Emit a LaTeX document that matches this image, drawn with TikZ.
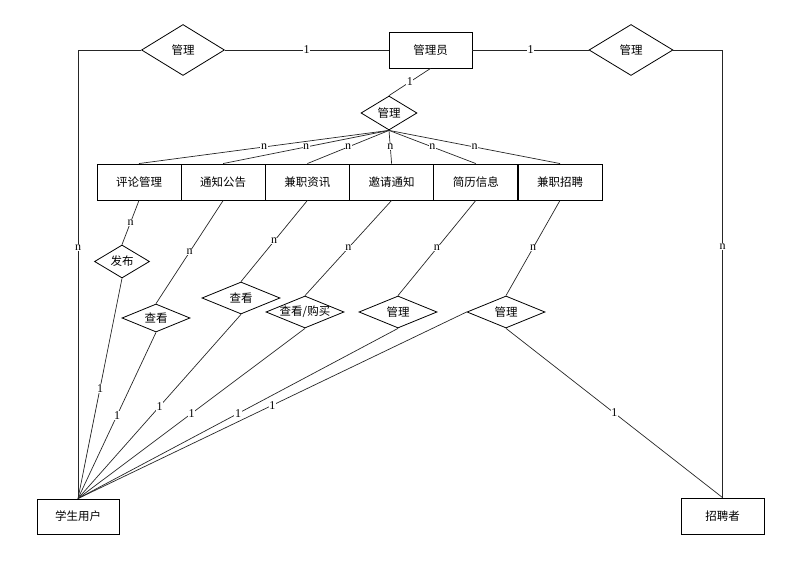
\documentclass[tikz,border=0pt]{standalone}
\usepackage{fontspec}
\setmainfont{Liberation Serif}
\newfontfamily\cjk{Noto Sans CJK SC}
\usetikzlibrary{shapes.geometric}
\tikzset{%
	entity/.style={
		rectangle,
		draw,
		line width=0.9pt,
		minimum width=84pt,
		minimum height=36pt,
		inner sep=0pt,
		font=\cjk\fontsize{11.5}{13}\selectfont
	},
	relation/.style 2 args={
		diamond,
		draw,
		line width=0.8pt,
		inner sep=0pt,
		aspect=2,
		minimum width=#1pt,
		minimum height=#2pt,
		font=\cjk\fontsize{11.5}{13}\selectfont
	},
	rel-4/.style={ inner xsep=-9pt },
	card/.style={
		fill=white,
		inner sep=0.6pt,
		font=\fontsize{12}{12}\selectfont
	},
	link/.style={ line width=0.7pt, draw=black!85 },
}

\begin{document}
\begin{tikzpicture}[x=1pt, y=-1pt]
\useasboundingbox (0,0) rectangle (785,561);

% entities
\node[entity, minimum width=83pt] (admin) at (430.5,50) {管理员};
\node[entity, minimum width=82pt, minimum height=35pt] (student) at (78,516.5) {学生用户};
\node[entity, minimum width=83pt] (recruiter) at (722.5,516) {招聘者};
\foreach \m [count=\i] in {评论管理,通知公告,兼职资讯,邀请通知,简历信息,兼职招聘}
	\node[entity] (entity-\i) at ({139+84.2*(\i-1)},182) {\m};

% relations
\node[relation={83}{51}] (manage-left) at (183,50) {管理};
\node[relation={84}{51}] (manage-right) at (631,50) {管理};
\node[relation={56}{34}] (manage-top) at (389,113) {管理};
\foreach \t/\px/\py/\w/\h [count=\i] in {发布/122/261.5/55/33, 查看/156/318/68/28, 查看/241/298/78/32, {查看/购买}/305/312/78/32, 管理/398/312/78/32, 管理/506/312/78/32}
	\node[relation={\w}{\h}, rel-\i/.try] (rel-\i) at (\px,\py) {\t};

% connections of the admin
\draw[link] (manage-left) -- node[card] {1} (admin);
\draw[link] (admin) -- node[card] {1} (manage-right);
\draw[link] (manage-left.west) -| node[card, pos=0.72] {n} (student.north);
\draw[link] (manage-right.east) -| node[card, pos=0.72] {n} (recruiter.north);
\draw[link] (admin.south) -- node[card] {1} (manage-top.north);
\foreach \i in {1,...,6}
	\draw[link] (manage-top.south) -- node[card] {n} (entity-\i.north);

% connections of the users
\foreach \i in {1,...,6}
	\draw[link] (entity-\i.south) -- node[card] {n} (rel-\i.north);
\foreach \i in {1,...,5}
	\draw[link] (rel-\i.south) -- node[card] {1} (student.north);
\draw[link] (rel-6.west) -- node[card] {1} (student.north);
\draw[link] (rel-6.south) -- node[card] {1} (recruiter.north);

\end{tikzpicture}
\end{document}
